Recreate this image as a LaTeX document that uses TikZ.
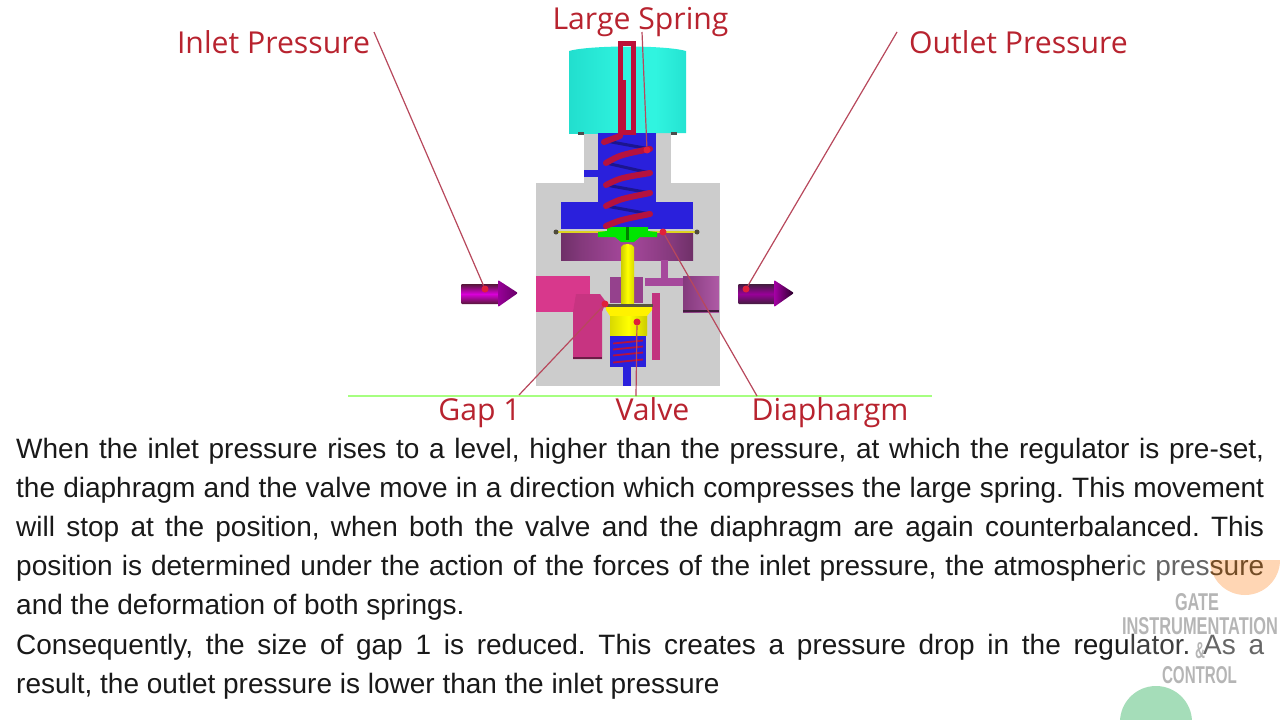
\documentclass[tikz,border=0pt]{standalone}
\usepackage{fontspec}
\setmainfont{Liberation Sans}
\newfontfamily\labelfont{Open Sans}
\definecolor{lblred}{HTML}{B8232F}
\definecolor{leadred}{HTML}{B8485C}
\definecolor{dotred}{HTML}{E0203A}
\definecolor{bodygray}{HTML}{CCCCCC}
\definecolor{chamblue}{HTML}{2A20DC}
\definecolor{coilred}{HTML}{B5123F}
\definecolor{inpink}{HTML}{D8388C}
\definecolor{outpurple}{HTML}{A6489C}
\definecolor{wmgray}{HTML}{A9A9A9}
\definecolor{capdark}{HTML}{129086}
\definecolor{capmid}{HTML}{20DCCC}
\definecolor{capbright}{HTML}{30F4E0}
\pgfdeclarehorizontalshading{capshade}{100bp}{
  color(0bp)=(capdark); color(22bp)=(capmid); color(50bp)=(capbright); color(62bp)=(capbright); color(80bp)=(capmid); color(100bp)=(capdark)}
\pgfdeclarehorizontalshading{lowshade}{100bp}{
  color(0bp)=(black!75!outpurple); color(33bp)=(outpurple!80!black); color(50bp)=(outpurple); color(67bp)=(outpurple!80!black); color(100bp)=(black!75!outpurple)}
\tikzset{
  lbl/.style={font=\labelfont\fontsize{30.2}{33}\selectfont,text=lblred,inner sep=0pt,anchor=base},
  para/.style={font=\fontsize{28}{32}\selectfont,inner sep=0pt,anchor=base west,text=black!90},
  leader/.style={draw=leadred,line width=1.2pt},
  rdot/.style={fill=dotred,draw=none,circle,minimum size=7pt,inner sep=0pt},
  coil/.style={draw=coilred,line width=6pt,line cap=round},
  backcoil/.style={draw=chamblue!65!black,line width=3pt,line cap=round},
  wm/.style={inner sep=0pt,text=wmgray,font=\bfseries,opacity=.85},
}
\newcommand{\jline}[1]{\makebox[1248pt][s]{#1}}
\frenchspacing
\begin{document}
\begin{tikzpicture}[x=1pt,y=-1pt]
\useasboundingbox (0,0) rectangle (1280,720);
\fill[white] (0,0) rectangle (1280,720);
% decor circles
\begin{scope}
\clip (1100,560) rectangle (1280,720);
\fill[fill=orange!30!white!90!pink] (1245,560) circle (35);
\fill[fill={rgb,255:red,165;green,221;blue,185}] (1156,722) circle (36);
\end{scope}
% body
\fill[bodygray] (536,183) rectangle (720,386);
\fill[bodygray] (584,133) rectangle (671,183);
% cap
\shade[shading=capshade]
  (569,51) .. controls (590,45) and (665,45) .. (686,51) -- (686,133) -- (569,134) -- cycle;
\fill[black!70] (578,132) rectangle (584,135);
\fill[black!70] (671,132) rectangle (677,135);
% spring chamber
\fill[chamblue] (598,133) rectangle (656,205);
\fill[chamblue] (584,170) rectangle (598,177);
\fill[chamblue] (561,202) rectangle (693,229);
% lower chamber
\shade[shading=lowshade] (561,233) rectangle (693,260);
\fill[outpurple] (661,260) rectangle (668,278);
\fill[outpurple] (645,278) rectangle (690,286);
\fill[outpurple!90!black] (610,277) rectangle (643,303);
\shade[left color=outpurple!80!black,right color=outpurple!90!white] (683,276) rectangle (719,312);
\fill[black!60!outpurple] (683,310) rectangle (719,312);
% inlet
\fill[inpink] (536,276) rectangle (590,312);
\fill[inpink!92!black] (576,294) -- (600,294) -- (606,302) -- (602,312) -- (602,359) -- (573,359) -- (573,312) -- cycle;
\fill[black!50!inpink] (573,357) rectangle (602,359);
\fill[inpink!90!black] (652,293) rectangle (660,360);
% stem
\shade[left color=yellow!80!black,right color=yellow!85!black,middle color=yellow]
  (621,304) -- (621,247) .. controls (622,243) and (633,243) .. (634,247) -- (634,304) -- cycle;
% valve
\fill[black!75!yellow] (606,304) rectangle (653,307);
\fill[yellow] (606,307) -- (652,307) -- (652,310) -- (647,316) -- (647,335) -- (610,335) -- (610,316) -- (606,310) -- cycle;
\shade[left color=yellow!85!black,right color=yellow!80!black,middle color=yellow] (610,316) rectangle (647,335);
\fill[chamblue] (610,336) rectangle (646,367);
\fill[chamblue] (623,367) rectangle (631,386);
\foreach \yy in {342,348,354,361}
  \draw[draw=coilred,line width=1.8pt] (613,\yy+1.5) -- (643,\yy-1.5);
% diaphragm
\draw[yellow!85!black,line width=2.5pt] (556,232) -- (698,232);
\fill[black!80!yellow] (556,232) circle (2.5);
\fill[black!80!yellow] (697,232) circle (2.5);
\fill[green!90!black] (607,227) -- (648,227) -- (648,231) -- (657,232) -- (657,237) -- (640,237) -- (634,242) -- (621,242) -- (615,237) -- (598,237) -- (598,232) -- (607,231) -- cycle;
\fill[green!50!black] (625.5,227) rectangle (628.5,240);
% large spring
\foreach \ya/\yb in {149/141,173/163,193/185,214/206}
  \draw[backcoil] (650,\ya) -- (606,\yb);
\draw[coil] (604,142) -- (620,136);
\draw[coil] (606,163) .. controls (620,155) .. (650,149);
\draw[coil] (606,185) .. controls (620,178) .. (650,173);
\draw[coil] (606,206) .. controls (620,199) .. (650,193);
\draw[coil] (606,226) .. controls (620,220) .. (650,214);
% adjusting rod
\draw[coilred!90!red,line width=5pt] (620.5,43.5) rectangle (633.5,132);
\fill[coilred!90!red] (620,80) rectangle (626,134);
% arrows
\shade[top color=inpink!40!black,bottom color=inpink!40!black,middle color=magenta!85!black,rounded corners=1pt]
  (461,284) -- (499,284) -- (499,304) -- (461,304) -- cycle;
\shade[left color=magenta!60!black,right color=black!60!magenta,rounded corners=1pt]
  (498,284) -- (498,280) -- (518,293) -- (498,307) -- (498,304) -- cycle;
\shade[top color=outpurple!40!black,bottom color=outpurple!40!black,middle color=violet!80!magenta,rounded corners=1pt]
  (738,284) -- (775,284) -- (775,304) -- (738,304) -- cycle;
\shade[left color=violet!70!magenta,right color=black!70!violet,rounded corners=1pt]
  (774,284) -- (774,280) -- (794,293) -- (774,307) -- (774,304) -- cycle;
% green base line
\coordinate (baseL) at (348,395.5);
\coordinate (baseR) at (932,395.5);
\draw[green!70!yellow!50!white,line width=2pt] (baseL) -- (baseR);
% labels
\node[lbl] (lInlet) at (273.5,53) {Inlet Pressure};
\node[lbl] (lOutlet) at (1018.5,53) {Outlet Pressure};
\node[lbl] (lSpring) at (640.5,29) {Large Spring};
\node[lbl] (lGap) at (479.5,420) {Gap 1};
\node[lbl] (lValve) at (652.5,420) {Valve};
\node[lbl] (lDia) at (830,420) {Diaphargm};
% leaders
\node[rdot] (dInlet) at (485,289) {};
\node[rdot] (dOutlet) at (746,289) {};
\node[rdot] (dSpring) at (647,150) {};
\node[rdot] (dGap) at (605,304) {};
\node[rdot] (dValve) at (637,322) {};
\node[rdot] (dDia) at (663,232) {};
\coordinate (cInlet) at (374,32);
\coordinate (cOutlet) at (897,32);
\coordinate (cSpring) at (642,32);
\coordinate (cGap) at (519,395);
\coordinate (cValve) at (636,396);
\coordinate (cDia) at (757,396);
\draw[leader] (cInlet) -- (dInlet);
\draw[leader] (cOutlet) -- (dOutlet);
\draw[leader] (cSpring) -- (dSpring);
\draw[leader] (cGap) -- (dGap);
\draw[leader] (cValve) -- (dValve);
\draw[leader] (cDia) -- (dDia);
% paragraph
\node[para] (t1) at (16,458) {\jline{When the inlet pressure rises to a level, higher than the pressure, at which the regulator is pre-set,}};
\node[para] (t2) at (16,497) {\jline{the diaphragm and the valve move in a direction which compresses the large spring. This movement}};
\node[para] (t3) at (16,536) {\jline{will stop at the position, when both the valve and the diaphragm are again counterbalanced. This}};
\node[para] (t4) at (16,575) {\jline{position is determined under the action of the forces of the inlet pressure, the atmospher{\color{black!65}ic} {\color{black!60}pres}{\color{brown!60!black}sure}}};
\node[para] (t5) at (16,614) {and the deformation of both springs.};
\node[para] (t6) at (16,654) {\jline{Consequently, the size of gap 1 is reduced. This creates a pressure drop in the regu{\color{black!75}lator.} {\color{black!60}As a}}};
\node[para] (t7) at (16,693) {result, the outlet pressure is lower than the inlet pressure};
% watermark
\node[wm] (w1) at (1197,602) {\resizebox{44pt}{17pt}{GATE}};
\node[wm] (w2) at (1200,626) {\resizebox{156pt}{17pt}{INSTRUMENTATION}};
\node[wm] (w3) at (1200,651) {\resizebox{10pt}{16pt}{\&}};
\node[wm] (w4) at (1199.5,675) {\resizebox{75pt}{17pt}{CONTROL}};
\end{tikzpicture}
\end{document}
